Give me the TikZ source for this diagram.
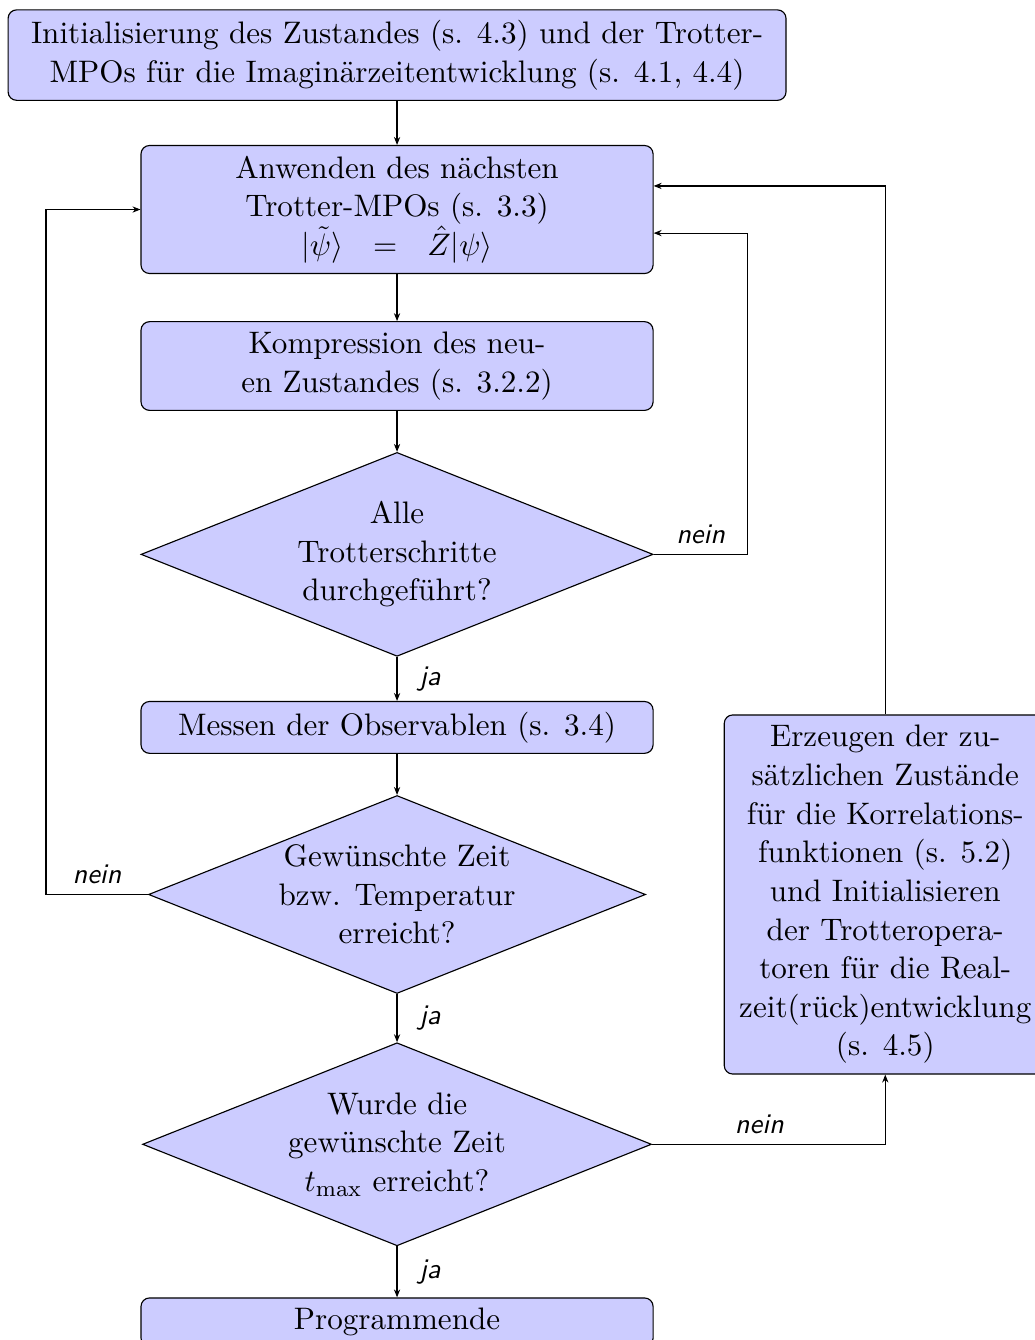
\documentclass[tikz,border=0pt,11pt]{standalone}
\usepackage{tikz}
\usetikzlibrary{arrows.meta,positioning,shapes.geometric}
\colorlet{stepfill}{blue!20}
\tikzset{
  box/.style={draw, fill=stepfill, rounded corners=3pt, align=center,
    minimum width=180.3pt},
  test/.style={draw, fill=stepfill, diamond, aspect=2.5, inner sep=0pt,
    align=center},
  answer/.style={font=\small\sffamily\itshape},
  flow/.style={-{Stealth[length=2.8pt,width=2.2pt]}},
}

\begin{document}
\begin{tikzpicture}[node distance=16pt]
    \useasboundingbox (-139.8pt,19.4pt) rectangle (224.6pt,-452.4pt);
    \clip (-139.8pt,19.4pt) rectangle (224.6pt,-452.4pt);
    \node[box, minimum width=273.9pt] (init) at (0,0) {Initialisierung des Zustandes (s. 4.3) und der Trotter-\\MPOs f\"ur die Imagin\"arzeitentwicklung (s. 4.1, 4.4)};
    \node[box, below=15.5pt of init] (apply) {Anwenden des n\"achsten\\Trotter-MPOs (s. 3.3)\\$|\tilde{\psi}\rangle\hspace{7.5pt}=\hspace{7.5pt}\hat{Z}|\psi\rangle$};
    \node[box, below=16.55pt of apply] (comp) {Kompression des neu-\\en Zustandes (s. 3.2.2)};
    \node[test, below=14.4pt of comp, minimum width=180.3pt, minimum height=71.8pt] (alle) {Alle\\Trotterschritte\\durchgef\"uhrt?};
    \node[box, below=15.5pt of alle] (meas) {Messen der Observablen (s. 3.4)};
    \node[test, below=14.45pt of meas, minimum width=175pt, minimum height=69.7pt] (ziel) {Gew\"unschte Zeit\\bzw. Temperatur\\erreicht?};
    \node[test, below=16.95pt of ziel, minimum width=179.2pt, minimum height=71.5pt] (tmax) {Wurde die\\gew\"unschte Zeit\\$t_{\max}$ erreicht?};
    \node[box, below=17.95pt of tmax] (ende) {Programmende};
    \node[box, minimum width=113.4pt, right=27.3pt of ziel] (extra) {Erzeugen der zu-\\s\"atzlichen Zust\"ande\\f\"ur die Korrelations-\\funktionen (s. 5.2)\\und Initialisieren\\der Trotteropera-\\toren f\"ur die Real-\\zeit(r\"uck)entwicklung\\(s. 4.5)};
    % main line
    \draw[flow] (init) -- (apply);
    \draw[flow] (apply) -- (comp);
    \draw[flow] (comp) -- (alle);
    \draw[flow] (alle) -- node[answer, right=4pt] {ja} (meas);
    \draw[flow] (meas) -- (ziel);
    \draw[flow] (ziel) -- node[answer, right=4pt] {ja} (tmax);
    \draw[flow] (tmax) -- node[answer, right=4pt] {ja} (ende);
    % loops back
    \draw[flow] (alle.east) -- node[answer, above] {nein} ++(33.1pt,0) |- ([yshift=-8.3pt]apply.east);
    \draw[flow] (ziel.west) -- node[answer, above] {nein} ++(-35.9pt,0) |- (apply.west);
    \draw[flow] (tmax.east) -| node[answer, above, pos=0.23] {nein} (extra.south);
    \draw[flow] (extra.north) |- ([yshift=8.3pt]apply.east);
  \end{tikzpicture}
\end{document}
